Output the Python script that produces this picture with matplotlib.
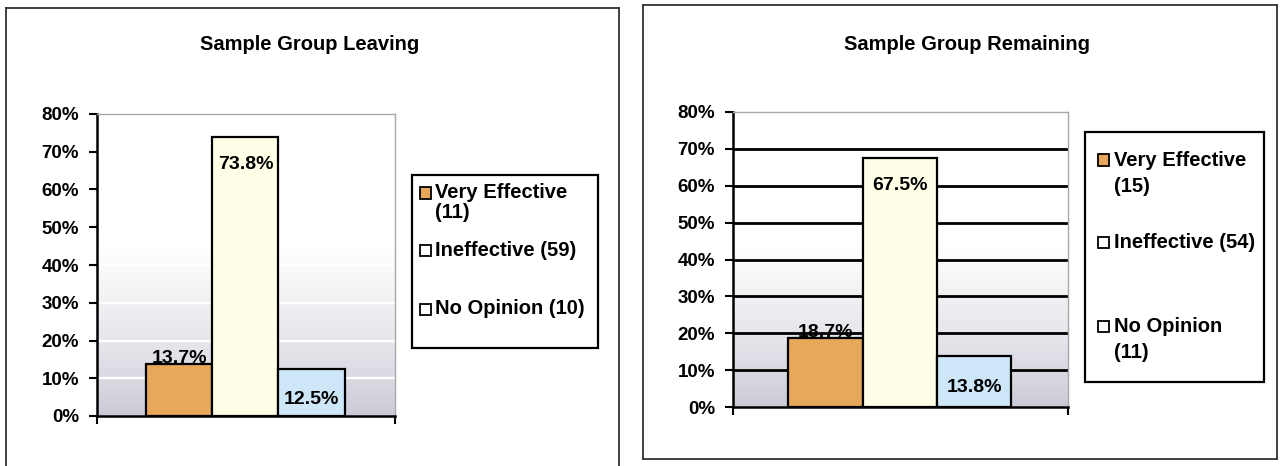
import numpy as np
import matplotlib
matplotlib.use("Agg")
import matplotlib.pyplot as plt
from matplotlib.patches import Rectangle

plt.rcParams["font.family"] = ["Liberation Sans", "DejaVu Sans"]
plt.rcParams["font.weight"] = "bold"

# ---- data ----
categories = ["Very Effective", "Ineffective", "No Opinion"]
leaving_pct = [13.7, 73.8, 12.5]
leaving_n = [11, 59, 10]
remaining_pct = [18.7, 67.5, 13.8]
remaining_n = [15, 54, 11]
y_ticks = [0, 10, 20, 30, 40, 50, 60, 70, 80]
y_tick_labels = ["0%", "10%", "20%", "30%", "40%", "50%", "60%", "70%", "80%"]

bar_colors = ["#E8A85A", "#FFFFE8", "#CDE6F8"]
legend_swatch = ["#E8A85A", "#FFFFFF", "#FFFFFF"]

TICK_FS = 13.5
TITLE_FS = 14.5
LEGEND_FS = 14.5
LABEL_FS = 14

W, H = 1281, 466
fig = plt.figure(figsize=(W / 100, H / 100), dpi=100)


def fx(px):
    return px / W


def fy(py):
    return 1 - py / H


def gradient_background(ax, top_white=0.55, bottom_rgb=(0.79, 0.79, 0.84)):
    f = np.linspace(0, 1, 256)[:, None]
    t = np.clip(f / top_white, 0, 1) ** 0.8
    img = np.zeros((256, 1, 3))
    for k in range(3):
        img[:, 0, k] = bottom_rgb[k] + (1 - bottom_rgb[k]) * t[:, 0]
    ax.imshow(img, origin="lower", extent=(0, 1, 0, 1), transform=ax.transAxes,
              aspect="auto", zorder=0, interpolation="bilinear")


def panel(frame, axes_px, title_xy, values, counts, grid_color, grid_lw,
          legend_box, legend_rows, label_styles):
    # outer chart frame
    x0, y0, x1, y1, show_bottom = frame
    fig.add_artist(plt.Line2D([fx(x0), fx(x1)], [fy(y0), fy(y0)], color="#333333", lw=1.3))
    fig.add_artist(plt.Line2D([fx(x0), fx(x0)], [fy(y0), fy(y1)], color="#333333", lw=1.3))
    fig.add_artist(plt.Line2D([fx(x1), fx(x1)], [fy(y0), fy(y1)], color="#333333", lw=1.3))
    if show_bottom:
        fig.add_artist(plt.Line2D([fx(x0), fx(x1)], [fy(y1), fy(y1)], color="#333333", lw=1.3))

    title, tx, ty = title_xy
    fig.text(fx(tx), fy(ty), title, ha="center", va="center", fontsize=TITLE_FS, fontweight="bold")

    ax_l, ax_t, ax_r, ax_b = axes_px
    ax = fig.add_axes([fx(ax_l), fy(ax_b), fx(ax_r - ax_l), (ax_b - ax_t) / H])
    gradient_background(ax)
    ax.set_xlim(0, 1)
    ax.set_ylim(0, 80)

    for g in y_ticks[1:-1]:
        ax.axhline(g, color=grid_color, lw=grid_lw, zorder=1)

    width = 0.222
    starts = 0.165 + width * np.arange(3)
    bars = ax.bar(starts, values, width=width, align="edge", color=bar_colors,
                  edgecolor="black", linewidth=1.6, zorder=2)

    for bar, v, (pos, off) in zip(bars, values, label_styles):
        cx = bar.get_x() + bar.get_width() / 2
        if pos == "above":
            ax.annotate(f"{v:.1f}%", (cx, v), xytext=(0, -3), textcoords="offset pixels",
                        ha="center", va="bottom", fontsize=LABEL_FS, fontweight="bold", zorder=3)
        else:
            ax.annotate(f"{v:.1f}%", (cx, v), xytext=(0, -off), textcoords="offset pixels",
                        ha="center", va="center", fontsize=LABEL_FS, fontweight="bold", zorder=3)

    ax.set_yticks(y_ticks)
    ax.set_yticklabels(y_tick_labels, fontsize=TICK_FS, fontweight="bold")
    ax.set_xticks([0, 1])
    ax.set_xticklabels([])
    ax.tick_params(axis="y", direction="out", length=6, width=1.5, pad=7)
    ax.tick_params(axis="x", direction="out", length=6, width=1.5)
    for s in ("left", "bottom"):
        ax.spines[s].set_color("black")
        ax.spines[s].set_linewidth(1.8)
    for s in ("top", "right"):
        ax.spines[s].set_color("#A8A8A8")
        ax.spines[s].set_linewidth(1.0)

    # legend box
    lx0, ly0, lx1, ly1, sq_x, txt_x, line_gap = legend_box
    fig.add_artist(Rectangle((fx(lx0), fy(ly1)), fx(lx1 - lx0), (ly1 - ly0) / H,
                             facecolor="white", edgecolor="black", lw=1.6, zorder=5))
    for i, (row_y, wrap) in enumerate(legend_rows):
        sq = 11
        fig.add_artist(Rectangle((fx(sq_x), fy(row_y + sq / 2)), fx(sq), sq / H,
                                 facecolor=legend_swatch[i], edgecolor="black", lw=1.3, zorder=6))
        label = f"{categories[i]} ({counts[i]})"
        lines = [f"{categories[i]}", f"({counts[i]})"] if wrap else [label]
        for j, line in enumerate(lines):
            fig.text(fx(txt_x), fy(row_y + j * line_gap), line, ha="left", va="center",
                     fontsize=LEGEND_FS, fontweight="bold", zorder=7)
    return ax


panel(frame=(6, 8, 619, 470, False),
      axes_px=(97, 114, 395, 416),
      title_xy=("Sample Group Leaving", 310, 45),
      values=leaving_pct, counts=leaving_n,
      grid_color="white", grid_lw=1.6,
      legend_box=(412, 175, 598, 348, 420, 435, 19),
      legend_rows=[(193, True), (250, False), (309, False)],
      label_styles=[("above", 0), ("inside", 27), ("inside", 31)])

panel(frame=(643, 5, 1277, 459, True),
      axes_px=(733, 112, 1068, 407),
      title_xy=("Sample Group Remaining", 967, 44),
      values=remaining_pct, counts=remaining_n,
      grid_color="black", grid_lw=2.0,
      legend_box=(1085, 132, 1264, 382, 1098, 1114, 27),
      legend_rows=[(160, True), (243, False), (326, True)],
      label_styles=[("above", 0), ("inside", 27), ("inside", 31)])

fig.savefig("out.png", dpi=100)
